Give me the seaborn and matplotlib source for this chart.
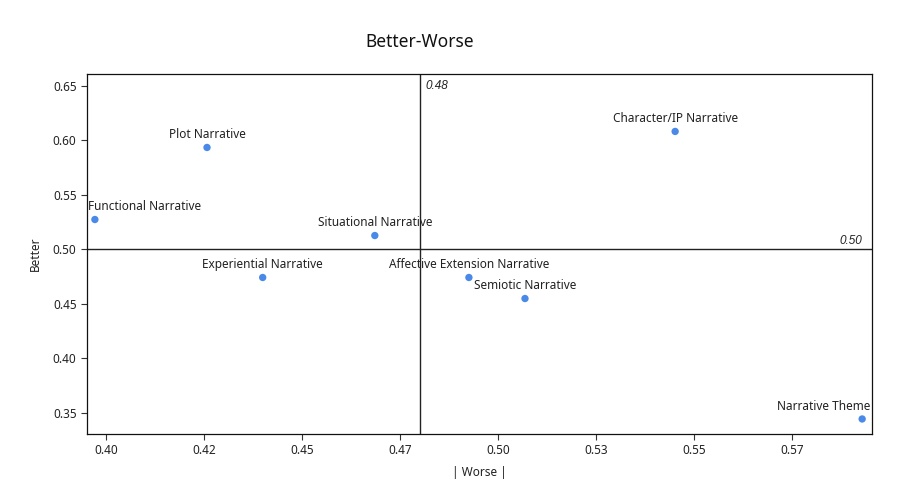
import matplotlib
matplotlib.use("Agg")
import matplotlib.pyplot as plt
import seaborn as sns
import pandas as pd

names = ["Plot Narrative", "Functional Narrative", "Situational Narrative",
         "Experiential Narrative", "Affective Extension Narrative",
         "Semiotic Narrative", "Character/IP Narrative", "Narrative Theme"]
worse = [0.4258, 0.3972, 0.4686, 0.4400, 0.4926, 0.5069, 0.5452, 0.5929]
better = [0.5936, 0.5275, 0.5128, 0.4743, 0.4743, 0.4550, 0.6083, 0.3445]
x_ref = 0.48
y_ref = 0.50
x_ticks = [0.400, 0.425, 0.450, 0.475, 0.500, 0.525, 0.550, 0.575]
y_ticks = [0.35, 0.40, 0.45, 0.50, 0.55, 0.60, 0.65]

sns.set_theme(style="white")
plt.rcParams['font.family'] = ['Noto Sans', 'DejaVu Sans']

df = pd.DataFrame({"name": names, "worse": worse, "better": better})

fig = plt.figure(figsize=(9.23, 4.98), dpi=100)
ax = fig.add_axes([0.0943, 0.1285, 0.8504, 0.7229])
sns.scatterplot(data=df, x="worse", y="better", ax=ax, color="#4a89e8",
                s=28, edgecolor="none", zorder=3)

ax.axvline(x_ref, color="#222222", lw=1)
ax.axhline(y_ref, color="#222222", lw=1)

ax.set_xlim(0.3952, 0.5954)
ax.set_ylim(0.3307, 0.661)

fig.canvas.draw()
renderer = fig.canvas.get_renderer()
ax_bb = ax.get_window_extent(renderer)
for n, xv, yv in zip(names, worse, better):
    t = ax.annotate(n, (xv, yv), xytext=(0, 4.5), textcoords="offset points",
                    ha="center", va="bottom", fontsize=8.5, color="#222222")
    bb = t.get_window_extent(renderer)
    shift = 0
    if bb.x0 < ax_bb.x0 + 1:
        shift = ax_bb.x0 + 1 - bb.x0
    elif bb.x1 > ax_bb.x1 - 2:
        shift = ax_bb.x1 - 2 - bb.x1
    if shift:
        t.set_position((shift * 72 / fig.dpi, 4.5))

ax.set_xticks(x_ticks)
ax.set_xticklabels([f"{t:.2f}" for t in x_ticks])
ax.set_yticks(y_ticks)
ax.set_yticklabels([f"{t:.2f}" for t in y_ticks])
ax.tick_params(axis="both", which="both", length=4, width=0.8, color="#333333",
               labelsize=8.5, labelcolor="#222222", bottom=True, left=True)

for s in ax.spines.values():
    s.set_color("#111111")
    s.set_linewidth(0.9)

ax.annotate(f"{x_ref:.2f}", (x_ref, 0.661), xytext=(4, -4),
            textcoords="offset points", ha="left", va="top", fontsize=8.5,
            style="italic", family=["Liberation Sans"], color="#222222")
ax.annotate(f"{y_ref:.2f}", (0.5954, y_ref), xytext=(-7, 1.5),
            textcoords="offset points", ha="right", va="bottom", fontsize=8.5,
            style="italic", family=["Liberation Sans"], color="#222222")

ax.set_xlabel("| Worse |", fontsize=8.5, color="#222222", labelpad=6)
ax.set_ylabel("Better", fontsize=8.5, color="#222222", labelpad=8)
fig.text(0.455, 0.915, "Better-Worse", ha="center", va="center", fontsize=12.5,
         color="#111111")

fig.savefig("out.png", dpi=100, facecolor="white")
